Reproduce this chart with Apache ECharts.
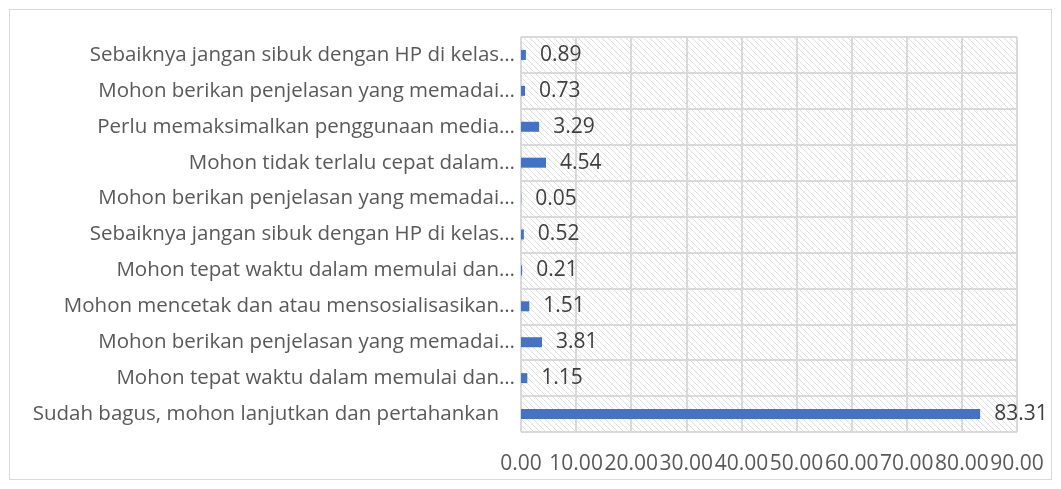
<!DOCTYPE html>
<html>
<head>
<meta charset="utf-8">
<script src="https://cdn.jsdelivr.net/npm/echarts@6/dist/echarts.min.js"></script>
<style>
html, body { margin: 0; padding: 0; background: #fff; }
#frame { position: absolute; left: 9px; top: 9px; width: 1041px; height: 469px; border: 1px solid #d9d9d9; }
#chart { position: absolute; left: 0; top: 0; width: 1061px; height: 489px; }
</style>
</head>
<body>
<div id="frame"></div>
<div id="chart"></div>
<script>
// bottom to top, same order as the axis
var categories = [
	"Sudah bagus, mohon lanjutkan dan pertahankan",
	"Mohon tepat waktu dalam memulai dan…",
	"Mohon berikan penjelasan yang memadai…",
	"Mohon mencetak dan atau mensosialisasikan…",
	"Mohon tepat waktu dalam memulai dan…",
	"Sebaiknya jangan sibuk dengan HP di kelas…",
	"Mohon berikan penjelasan yang memadai…",
	"Mohon tidak terlalu cepat dalam…",
	"Perlu memaksimalkan penggunaan media…",
	"Mohon berikan penjelasan yang memadai…",
	"Sebaiknya jangan sibuk dengan HP di kelas…"
];
var values = [83.31, 1.15, 3.81, 1.51, 0.21, 0.52, 0.05, 4.54, 3.29, 0.73, 0.89];
var xTicks = [0, 10, 20, 30, 40, 50, 60, 70, 80, 90];

// hatch pattern for plot area
var hatch = document.createElement("canvas");
hatch.width = 6; hatch.height = 6;
var hc = hatch.getContext("2d");
hc.strokeStyle = "#dedede";
hc.lineWidth = 1;
hc.beginPath();
hc.moveTo(-1, -1); hc.lineTo(7, 7);
hc.moveTo(-1, 5); hc.lineTo(1, 7);
hc.moveTo(5, -1); hc.lineTo(7, 1);
hc.stroke();

var myChart = echarts.init(document.getElementById("chart"));
var font = "'Open Sans', sans-serif";

// the untruncated label sits a bit further from the axis
var yData = categories.map(function (c) {
	if (c.indexOf("…") < 0) {
		return { value: c, textStyle: { padding: [0, 16, 0, 0] } };
	}
	return c;
});

var option = {
	animation: false,
	grid: {
		left: 521,
		right: 44,
		top: 37,
		bottom: 57,
		show: true,
		borderWidth: 0,
		backgroundColor: { image: hatch, repeat: "repeat" }
	},
	xAxis: {
		type: "value",
		min: xTicks[0],
		max: xTicks[xTicks.length - 1],
		interval: 10,
		axisLine: { show: false },
		axisTick: { show: false },
		splitLine: { show: true, lineStyle: { color: "#d9d9d9", width: 2 } },
		axisLabel: {
			color: "#595959",
			fontFamily: font,
			fontSize: 21,
			margin: 22,
			hideOverlap: false,
			formatter: function (v) { return v.toFixed(2); }
		}
	},
	yAxis: {
		type: "category",
		data: yData,
		axisLine: { show: false },
		axisTick: { show: false },
		splitLine: { show: true, interval: 0, lineStyle: { color: "#d9d9d9", width: 2 } },
		axisLabel: {
			color: "#595959",
			fontFamily: font,
			fontSize: 20.5,
			margin: 6,
			interval: 0
		}
	},
	series: [
		{
			type: "bar",
			data: values,
			barWidth: 10,
			itemStyle: { color: "#4472c4" },
			label: {
				show: true,
				position: "right",
				distance: 14,
				color: "#404040",
				fontFamily: font,
				fontSize: 21,
				formatter: function (p) { return p.value.toFixed(2); }
			}
		}
	]
};

myChart.setOption(option);
</script>
</body>
</html>
